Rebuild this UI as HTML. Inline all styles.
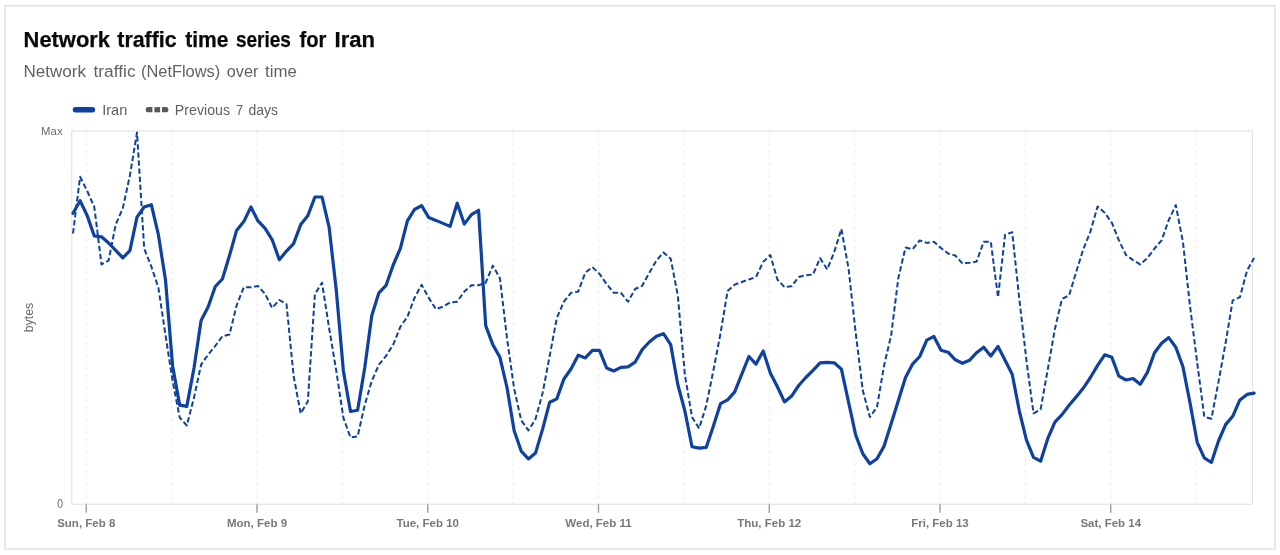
<!DOCTYPE html>
<html><head><meta charset="utf-8"><title>Network traffic time series for Iran</title>
<style>
html,body{margin:0;padding:0;background:#fff;}
body{width:1280px;height:555px;overflow:hidden;position:relative;font-family:"Liberation Sans",sans-serif;}
.title{position:absolute;left:23.5px;top:27px;font-size:19.5px;font-weight:bold;color:#0b0b0b;white-space:nowrap;line-height:26px;letter-spacing:0px;}
.sub{position:absolute;left:24px;top:62px;font-size:14.5px;color:#666;white-space:nowrap;line-height:20px;}
svg{position:absolute;left:0;top:0;}
.tx{filter:grayscale(1);}
svg text{font-family:"Liberation Sans",sans-serif;}
</style></head><body>
<svg width="1280" height="555" viewBox="0 0 1280 555">
<rect x="5" y="5.75" width="1270" height="543.25" fill="#fff" stroke="#e4e4e4" stroke-width="1.6"/>
<g stroke="#e9e9e9" stroke-width="1" stroke-dasharray="3 3.4" fill="none"><line x1="86.25" y1="131.0" x2="86.25" y2="504.25"/><line x1="257.00" y1="131.0" x2="257.00" y2="504.25"/><line x1="427.75" y1="131.0" x2="427.75" y2="504.25"/><line x1="598.50" y1="131.0" x2="598.50" y2="504.25"/><line x1="769.25" y1="131.0" x2="769.25" y2="504.25"/><line x1="940.00" y1="131.0" x2="940.00" y2="504.25"/><line x1="1110.75" y1="131.0" x2="1110.75" y2="504.25"/><line x1="171.62" y1="131.0" x2="171.62" y2="504.25"/><line x1="342.38" y1="131.0" x2="342.38" y2="504.25"/><line x1="513.12" y1="131.0" x2="513.12" y2="504.25"/><line x1="683.88" y1="131.0" x2="683.88" y2="504.25"/><line x1="854.62" y1="131.0" x2="854.62" y2="504.25"/><line x1="1025.38" y1="131.0" x2="1025.38" y2="504.25"/><line x1="1196.12" y1="131.0" x2="1196.12" y2="504.25"/></g>
<rect x="71.75" y="131.0" width="1180.75" height="373.25" fill="none" stroke="#e4e4e4" stroke-width="1.2"/>
<g stroke="#9c9c9c" stroke-width="1.4"><line x1="86.25" y1="504.25" x2="86.25" y2="512.75"/><line x1="257.00" y1="504.25" x2="257.00" y2="512.75"/><line x1="427.75" y1="504.25" x2="427.75" y2="512.75"/><line x1="598.50" y1="504.25" x2="598.50" y2="512.75"/><line x1="769.25" y1="504.25" x2="769.25" y2="512.75"/><line x1="940.00" y1="504.25" x2="940.00" y2="512.75"/><line x1="1110.75" y1="504.25" x2="1110.75" y2="512.75"/></g>
<g class="tx"><g font-size="11.5" font-weight="bold" fill="#787878"><text x="86.25" y="527" text-anchor="middle">Sun, Feb 8</text><text x="257.00" y="527" text-anchor="middle">Mon, Feb 9</text><text x="427.75" y="527" text-anchor="middle">Tue, Feb 10</text><text x="598.50" y="527" text-anchor="middle">Wed, Feb 11</text><text x="769.25" y="527" text-anchor="middle">Thu, Feb 12</text><text x="940.00" y="527" text-anchor="middle">Fri, Feb 13</text><text x="1110.75" y="527" text-anchor="middle">Sat, Feb 14</text></g>
<g font-size="12.8" fill="#6b6b6b"><text transform="translate(33.3,317.5) rotate(-90)" text-anchor="middle" textLength="29.6" lengthAdjust="spacingAndGlyphs">bytes</text></g>
<text x="23.58" y="47.4" font-size="21.5" font-weight="bold" fill="#0a0a0a" stroke="#0a0a0a" stroke-width="0.25" textLength="86.37" lengthAdjust="spacingAndGlyphs">Network</text>
<text x="117.30" y="47.4" font-size="21.5" font-weight="bold" fill="#0a0a0a" stroke="#0a0a0a" stroke-width="0.25" textLength="59.36" lengthAdjust="spacingAndGlyphs">traffic</text>
<text x="185.20" y="47.4" font-size="21.5" font-weight="bold" fill="#0a0a0a" stroke="#0a0a0a" stroke-width="0.25" textLength="43.26" lengthAdjust="spacingAndGlyphs">time</text>
<text x="235.90" y="47.4" font-size="21.5" font-weight="bold" fill="#0a0a0a" stroke="#0a0a0a" stroke-width="0.25" textLength="54.96" lengthAdjust="spacingAndGlyphs">series</text>
<text x="299.50" y="47.4" font-size="21.5" font-weight="bold" fill="#0a0a0a" stroke="#0a0a0a" stroke-width="0.25" textLength="26.91" lengthAdjust="spacingAndGlyphs">for</text>
<text x="334.57" y="47.4" font-size="21.5" font-weight="bold" fill="#0a0a0a" stroke="#0a0a0a" stroke-width="0.25" textLength="40.49" lengthAdjust="spacingAndGlyphs">Iran</text>
<text x="23.53" y="77.0" font-size="16" font-weight="normal" fill="#626262" textLength="62.50" lengthAdjust="spacingAndGlyphs">Network</text>
<text x="93.50" y="77.0" font-size="16" font-weight="normal" fill="#626262" textLength="42.10" lengthAdjust="spacingAndGlyphs">traffic</text>
<text x="140.98" y="77.0" font-size="16" font-weight="normal" fill="#626262" textLength="79.26" lengthAdjust="spacingAndGlyphs">(NetFlows)</text>
<text x="226.80" y="77.0" font-size="16" font-weight="normal" fill="#626262" textLength="31.52" lengthAdjust="spacingAndGlyphs">over</text>
<text x="265.00" y="77.0" font-size="16" font-weight="normal" fill="#626262" textLength="31.79" lengthAdjust="spacingAndGlyphs">time</text>
<text x="102.22" y="114.8" font-size="14.8" font-weight="normal" fill="#5e5e5e" textLength="25.01" lengthAdjust="spacingAndGlyphs">Iran</text>
<text x="174.84" y="114.8" font-size="14.8" font-weight="normal" fill="#5e5e5e" textLength="55.24" lengthAdjust="spacingAndGlyphs">Previous</text>
<text x="235.90" y="114.8" font-size="14.8" font-weight="normal" fill="#5e5e5e" textLength="7.10" lengthAdjust="spacingAndGlyphs">7</text>
<text x="248.40" y="114.8" font-size="14.8" font-weight="normal" fill="#5e5e5e" textLength="29.48" lengthAdjust="spacingAndGlyphs">days</text>
<text x="41.10" y="134.8" font-size="11.2" font-weight="normal" fill="#6b6b6b" textLength="21.49" lengthAdjust="spacingAndGlyphs">Max</text>
<text x="57.30" y="507.6" font-size="12.3" font-weight="normal" fill="#6b6b6b" textLength="5.76" lengthAdjust="spacingAndGlyphs">0</text></g>
<line x1="75.4" y1="109.7" x2="92.5" y2="109.7" stroke="#0e41a0" stroke-width="5.4" stroke-linecap="round"/>
<g fill="#585858"><path d="M148.3 107.1h4.1v5.2h-4.1a2.6 2.6 0 0 1 0-5.2z"/><rect x="154.4" y="107.1" width="5.7" height="5.2"/><path d="M162 107.1h3.8a2.6 2.6 0 0 1 0 5.2h-3.8z"/></g>
<path d="M73.0 233.5L80.1 176.8L87.2 191.0L94.3 207.0L101.5 264.5L108.6 260.5L115.7 224.6L122.8 208.2L129.9 175.5L137.0 132.6L144.2 248.6L151.3 266.4L158.4 287.8L165.5 335.0L172.6 381.0L179.7 417.5L186.8 425.5L194.0 397.6L201.1 364.7L208.2 354.6L215.3 345.8L222.4 336.2L229.5 334.5L236.6 305.5L243.8 287.3L250.9 287.3L258.0 286.0L265.1 294.0L272.2 308.0L279.3 300.0L286.5 304.2L293.6 376.0L300.7 413.5L307.8 401.4L314.9 294.1L322.0 282.7L329.1 328.0L336.3 371.0L343.4 417.8L350.5 437.5L357.6 436.5L364.7 405.0L371.8 381.0L378.9 364.7L386.1 355.9L393.2 344.6L400.3 326.9L407.4 316.8L414.5 297.9L421.6 284.8L428.8 297.9L435.9 309.2L443.0 306.7L450.1 302.4L457.2 301.7L464.3 291.6L471.4 285.3L478.6 285.3L485.7 282.7L492.8 265.6L499.9 278.2L507.0 338.2L514.1 388.5L521.2 420.3L528.4 430.4L535.5 419.1L542.6 393.0L549.7 355.9L556.8 318.0L563.9 301.7L571.0 292.8L578.2 291.6L585.3 272.7L592.4 267.1L599.5 273.9L606.6 284.0L613.7 292.8L620.9 292.8L628.0 301.7L635.1 289.0L642.2 285.8L649.3 272.7L656.4 260.5L663.5 252.4L670.7 258.8L677.8 295.4L684.9 375.0L692.0 417.0L699.1 428.4L706.2 405.7L713.4 370.4L720.5 333.5L727.6 290.9L734.7 284.6L741.8 282.0L748.9 279.5L756.0 277.0L763.2 261.9L770.3 255.0L777.4 279.5L784.5 287.1L791.6 286.3L798.7 277.0L805.8 275.2L813.0 274.5L820.1 258.1L827.2 269.4L834.3 251.8L841.4 229.0L848.5 268.2L855.6 332.0L862.8 390.6L869.9 417.1L877.0 407.0L884.1 365.4L891.2 335.0L898.3 278.2L905.5 247.5L912.6 249.2L919.7 240.4L926.8 242.9L933.9 241.7L941.0 248.0L948.1 253.5L955.3 255.5L962.4 263.3L969.5 262.8L976.6 261.6L983.7 241.7L990.8 241.7L998.0 297.2L1005.1 234.6L1012.2 232.3L1019.3 299.0L1026.4 360.0L1033.5 413.3L1040.6 409.5L1047.8 369.1L1054.9 329.0L1062.0 298.9L1069.1 295.4L1076.2 271.9L1083.3 249.2L1090.4 231.6L1097.6 206.4L1104.7 212.7L1111.8 222.7L1118.9 240.4L1126.0 255.0L1133.1 260.1L1140.2 264.4L1147.4 258.1L1154.5 248.5L1161.6 240.4L1168.7 220.2L1175.8 205.1L1182.9 241.7L1190.1 306.8L1197.2 362.8L1204.3 416.8L1211.4 418.8L1218.5 381.8L1225.6 343.0L1232.7 300.4L1239.9 297.2L1247.0 270.7L1254.1 258.1" fill="none" stroke="#0e41a0" stroke-width="2" stroke-dasharray="5.4 2.7" stroke-linejoin="round"/>
<path d="M73.0 213.3L80.1 200.7L87.2 215.6L94.3 236.0L101.5 236.8L108.6 243.0L115.7 250.4L122.8 257.8L129.9 250.6L137.0 217.1L144.2 207.0L151.3 204.7L158.4 234.7L165.5 280.0L172.6 366.0L179.7 405.2L186.8 406.4L194.0 368.0L201.1 320.6L208.2 306.7L215.3 286.5L222.4 279.0L229.5 255.5L236.6 230.4L243.8 221.6L250.9 207.0L258.0 220.9L265.1 228.4L272.2 239.8L279.3 259.8L286.5 251.1L293.6 243.6L300.7 224.6L307.8 215.8L314.9 197.0L322.0 197.0L329.1 227.2L336.3 290.3L343.4 371.0L350.5 411.5L357.6 410.2L364.7 368.0L371.8 315.5L378.9 292.8L386.1 285.3L393.2 265.0L400.3 248.6L407.4 220.9L414.5 209.5L421.6 205.7L428.8 217.6L435.9 220.4L443.0 223.4L450.1 226.4L457.2 203.2L464.3 224.1L471.4 214.6L478.6 210.3L485.7 325.6L492.8 344.6L499.9 357.2L507.0 387.5L514.1 430.4L521.2 451.1L528.4 458.9L535.5 453.1L542.6 429.1L549.7 402.2L556.8 398.9L563.9 379.0L571.0 369.0L578.2 355.2L585.3 357.9L592.4 350.4L599.5 350.4L606.6 368.0L613.7 371.0L620.9 367.3L628.0 366.8L635.1 362.2L642.2 349.6L649.3 342.0L656.4 336.2L663.5 333.7L670.7 344.6L677.8 384.5L684.9 411.0L692.0 446.8L699.1 448.1L706.2 447.4L713.4 425.9L720.5 403.7L727.6 399.9L734.7 391.9L741.8 374.2L748.9 356.5L756.0 364.1L763.2 351.0L770.3 372.9L777.4 386.8L784.5 401.9L791.6 396.1L798.7 385.5L805.8 377.5L813.0 370.4L820.1 362.8L827.2 362.3L834.3 362.8L841.4 369.1L848.5 401.9L855.6 434.7L862.8 453.7L869.9 463.7L877.0 458.7L884.1 446.1L891.2 423.4L898.3 400.7L905.5 377.5L912.6 364.1L919.7 356.5L926.8 340.1L933.9 336.4L941.0 350.2L948.1 352.2L955.3 359.8L962.4 363.3L969.5 360.3L976.6 352.7L983.7 347.2L990.8 356.0L998.0 346.4L1005.1 360.3L1012.2 374.2L1019.3 410.8L1026.4 439.8L1033.5 457.4L1040.6 461.2L1047.8 438.5L1054.9 422.1L1062.0 414.6L1069.1 405.2L1076.2 396.9L1083.3 388.1L1090.4 377.5L1097.6 365.4L1104.7 354.8L1111.8 357.3L1118.9 376.2L1126.0 380.0L1133.1 378.5L1140.2 384.3L1147.4 372.4L1154.5 352.7L1161.6 343.2L1168.7 337.6L1175.8 347.2L1182.9 366.6L1190.1 403.2L1197.2 442.3L1204.3 457.9L1211.4 462.5L1218.5 441.0L1225.6 424.6L1232.7 416.3L1239.9 399.9L1247.0 394.4L1254.1 393.1" fill="none" stroke="#0e41a0" stroke-width="3.2" stroke-linejoin="round" stroke-linecap="round"/>
</svg>
</body></html>
